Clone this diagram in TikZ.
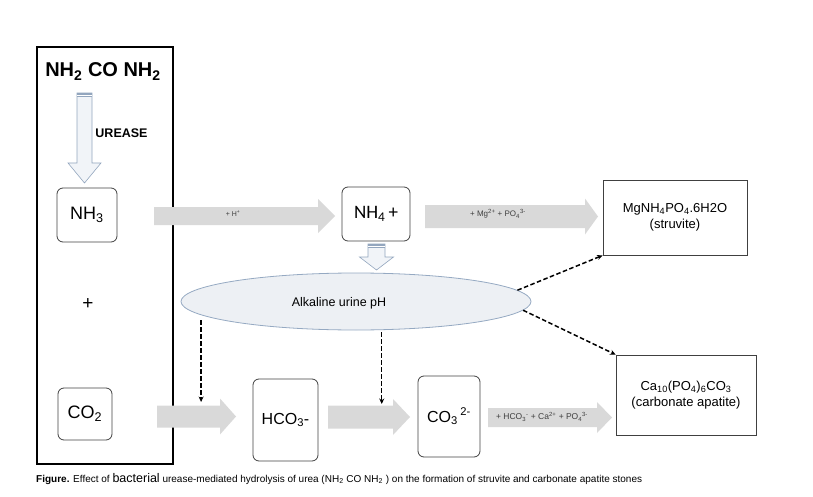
\documentclass[tikz,border=0pt]{standalone}
\usepackage{fontspec}
\setmainfont{Liberation Sans}
\newfontfamily\calibrifont{Carlito}
\usetikzlibrary{shapes.geometric,calc,arrows.meta}

\definecolor{arrowgray}{HTML}{D9D9D9}
\definecolor{labelgray}{HTML}{3F3F3F}
\definecolor{boxline}{HTML}{404040}
\definecolor{palefill}{HTML}{F1F4F8}
\definecolor{paleline}{HTML}{93A6BE}
\definecolor{phfill}{HTML}{EDF0F4}
\definecolor{phline}{HTML}{95A9C2}

\tikzstyle{ion-box}=[draw=boxline, line width=0.8pt, rounded corners=6pt, inner sep=0pt]
\tikzstyle{mineral-box}=[draw=boxline, line width=0.8pt, inner sep=0pt, align=center, font=\fontsize{13}{16.5}\selectfont]
\tikzstyle{flow-arrow}=[fill=arrowgray]
\tikzstyle{flow-label}=[text=labelgray, inner sep=0pt, font=\fontsize{7}{8}\selectfont]
\tikzstyle{pale-arrow}=[fill=palefill, draw=paleline, line width=0.6pt]
\tikzstyle{dash-arrow}=[line width=1.5pt, dash pattern=on 4.5pt off 2.5pt, -{Stealth[length=5.5pt, width=5pt]}]

% tail, tip, shaft half width, head half width, head length
\newcommand{\flowarrow}[5]{%
  \fill[flow-arrow] let \p1=(#1), \p2=(#2) in
    (\x1,\y1+#3pt) -- (\x2-#5pt,\y1+#3pt) -- (\x2-#5pt,\y1+#4pt) -- (\x2,\y1)
    -- (\x2-#5pt,\y1-#4pt) -- (\x2-#5pt,\y1-#3pt) -- (\x1,\y1-#3pt) -- cycle;
}
% top, tip, shaft half width, head half width, head length
\newcommand{\palearrow}[5]{%
  \filldraw[pale-arrow] let \p1=(#1), \p2=(#2) in
    (\x1-#3pt,\y1) -- (\x1-#3pt,\y2+#5pt) -- (\x1-#4pt,\y2+#5pt) -- (\x1,\y2)
    -- (\x1+#4pt,\y2+#5pt) -- (\x1+#3pt,\y2+#5pt) -- (\x1+#3pt,\y1) -- cycle;
  \fill[paleline] let \p1=(#1) in (\x1-#3pt,\y1) rectangle (\x1+#3pt,\y1-4pt);
  \draw[white, line width=0.7pt] let \p1=(#1) in (\x1-#3pt,\y1-2pt) -- (\x1+#3pt,\y1-2pt);
}

\begin{document}
\begin{tikzpicture}[x=1pt, y=-1pt]
      \useasboundingbox (0,0) rectangle (813,497);

      \node (ureabox) at (105,255.5) [draw, line width=1.5pt, minimum width=136pt, minimum height=417pt] {};
      \node (urea) at (103,77) [anchor=base, font=\bfseries\fontsize{20}{22}\selectfont]
            {NH\textsubscript{2} CO NH\textsubscript{2}};
      \node (urease) at (121.5,138) [anchor=base, font=\bfseries\fontsize{12.5}{14}\selectfont] {UREASE};
      \node (plus) at (88,304) [font=\fontsize{19}{20}\selectfont] {+};

      \node (nhthree) at (87,215) [ion-box, minimum width=60pt, minimum height=54pt,
            font=\fontsize{18}{20}\selectfont] {NH\textsubscript{3}};
      \node (cotwo) at (85,414) [ion-box, minimum width=54pt, minimum height=52pt,
            font=\fontsize{18}{20}\selectfont] {CO\textsubscript{2}};
      \node (nhfour) at (376,214) [ion-box, minimum width=68pt, minimum height=54pt,
            font=\calibrifont\fontsize{19}{20}\selectfont] {NH\textsubscript{4}\,+};
      \node (hcothree) at (285.5,420) [ion-box, minimum width=65pt, minimum height=82pt,
            font=\fontsize{16}{18}\selectfont] {HCO\textsubscript{3}-};
      \node (cothree) at (449,416.5) [ion-box, minimum width=62pt, minimum height=81pt,
            font=\fontsize{16}{18}\selectfont] {CO\textsubscript{3}\,\textsuperscript{2-}};

      \node (struvite) at (675,217.5) [mineral-box, minimum width=144pt, minimum height=75pt]
            {MgNH\textsubscript{4}PO\textsubscript{4}.6H2O\\(struvite)};
      \node (apatite) at (686,395) [mineral-box, minimum width=140pt, minimum height=80pt]
            {Ca\textsubscript{10}(PO\textsubscript{4})\textsubscript{6}CO\textsubscript{3}\\(carbonate apatite)};

      \node (ph) at (356,301.5) [ellipse, fill=phfill, draw=phline, line width=0.8pt,
            minimum width=350pt, minimum height=57pt, inner sep=0pt] {};
      \node (phtext) at (339,303) [font=\fontsize{12.5}{14}\selectfont] {Alkaline urine pH};

      \coordinate (urease-top) at (84.5,93);
      \coordinate (urease-tip) at (84.5,183);
      \coordinate (nhfour-top) at (376.5,244);
      \coordinate (nhfour-tip) at (376.5,270);
      \palearrow{urease-top}{urease-tip}{7.5}{16.5}{20}
      \palearrow{nhfour-top}{nhfour-tip}{8.5}{17}{13}

      \coordinate (hplus-tail) at (154,216);
      \coordinate (hplus-tip) at (335,216);
      \coordinate (mg-tail) at (425,216.5);
      \coordinate (mg-tip) at (598,216.5);
      \coordinate (co-tail) at (157,416.5);
      \coordinate (co-tip) at (236,416.5);
      \coordinate (hco-tail) at (328,417);
      \coordinate (hco-tip) at (410,417);
      \coordinate (ca-tail) at (488,417.5);
      \coordinate (ca-tip) at (612,417.5);
      \flowarrow{hplus-tail}{hplus-tip}{9}{17}{17}
      \flowarrow{mg-tail}{mg-tip}{11.5}{18}{13}
      \flowarrow{co-tail}{co-tip}{11}{18}{16}
      \flowarrow{hco-tail}{hco-tip}{11.5}{18}{17}
      \flowarrow{ca-tail}{ca-tip}{9.5}{15.5}{15}

      \node (hplus) at (233,214) [flow-label] {+ H\textsuperscript{+}};
      \node (mg) at (498,214) [flow-label, font=\fontsize{8}{9}\selectfont]
            {+ Mg\textsuperscript{2+} + PO\textsubscript{4}\textsuperscript{3-}};
      \node (ca) at (542,417) [flow-label, font=\fontsize{8.5}{9}\selectfont]
            {+ HCO\textsubscript{3}\textsuperscript{-} + Ca\textsuperscript{2+} + PO\textsubscript{4}\textsuperscript{3-}};

      \coordinate (hco-drop) at (201,402);
      \coordinate (co-drop) at (381,404);
      \draw[dash-arrow] ([yshift=-5pt]ph.185) -- (ph.185 |- hco-drop);
      \draw[dash-arrow] ([yshift=-2pt]ph.312) -- (ph.312 |- co-drop);
      \draw[dash-arrow] (ph.4) -- (struvite.south west);
      \draw[dash-arrow] (ph.357) -- (apatite.north west);

      \node (caption) at (36,482) [anchor=base west, inner sep=0pt, font=\fontsize{10}{11}\selectfont]
            {\textbf{Figure.} Effect of {\fontsize{12.5}{13}\selectfont bacterial} urease-mediated hydrolysis of urea (NH\textsubscript{2} CO NH\textsubscript{2} ) on the formation of struvite and carbonate apatite stones};
    \end{tikzpicture}
\end{document}
